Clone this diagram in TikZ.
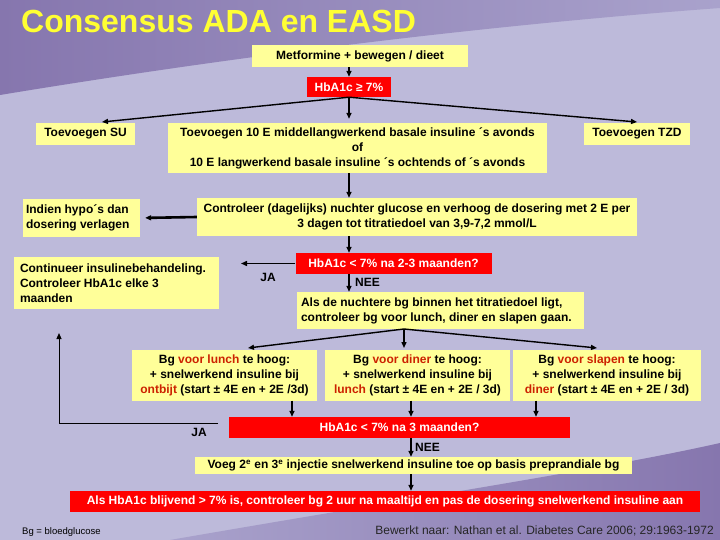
\documentclass[tikz,border=0pt]{standalone}
\usepackage{fontspec}
\setmainfont{Liberation Sans}
\usetikzlibrary{arrows.meta}
\definecolor{bglight}{HTML}{BDBADA}
\definecolor{bgdarkA}{HTML}{8676AE}
\definecolor{bgdarkB}{HTML}{A9A2CC}
\definecolor{boxyellow}{HTML}{FFFF99}
\definecolor{boxred}{HTML}{FF0000}
\definecolor{accent}{HTML}{CC2200}
\definecolor{titleyellow}{HTML}{FFFF33}
\newcommand{\acc}[1]{\textcolor{accent}{#1}}
\begin{document}
\begin{tikzpicture}[x=1pt,y=-1pt,
 ybox/.style={fill=boxyellow, inner sep=0pt, font=\fontsize{12}{15}\selectfont\bfseries, align=center},
 lbox/.style={fill=boxyellow, inner ysep=0pt, font=\fontsize{12}{15}\selectfont\bfseries, align=flush left},
 rbox/.style={fill=boxred, text=white, inner sep=0pt, font=\fontsize{12}{15}\selectfont\bfseries},
 arr/.style={-{Triangle[length=6pt,width=5pt]}, line width=1.4pt},
 lbl/.style={font=\fontsize{12}{15}\selectfont\bfseries, inner sep=0pt}
]
\fill[bglight] (0,0) rectangle (720,540);
\shade[left color=bgdarkA, right color=bgdarkB] (0,0) -- (0,95) .. controls (200,62) and (450,28) .. (720,8) -- (720,0) -- cycle;
\shade[left color=bgdarkB, right color=bgdarkA] (170,540) .. controls (400,500) and (600,470) .. (720,443) -- (720,540) -- cycle;
\useasboundingbox (0,0) rectangle (720,540);

\node[anchor=base west, inner sep=0pt, text=titleyellow, font=\fontsize{32}{38}\selectfont\bfseries] (title) at (21,33) {Consensus ADA en EASD};

\node[ybox, minimum width=216pt, minimum height=22pt] (metf) at (360,56) {Metformine + bewegen / dieet};
\node[rbox, minimum width=84pt, minimum height=20pt] (r1) at (349,87) {HbA1c ≥ 7\%};
\node[ybox, minimum width=99pt, minimum height=22pt] (su) at (85.5,134) {Toevoegen SU};
\node[ybox, minimum width=379pt, minimum height=50pt] (mid) at (357.5,148) {Toevoegen 10 E middellangwerkend basale insuline ´s avonds\\ of\\ 10 E langwerkend basale insuline ´s ochtends of ´s avonds};
\node[ybox, minimum width=106pt, minimum height=22pt] (tzd) at (637,134) {Toevoegen TZD};
\node[ybox, minimum width=440pt, minimum height=38pt] (ctrl) at (417,217) {Controleer (dagelijks) nuchter glucose en verhoog de dosering met 2 E per\\ 3 dagen tot titratiedoel van 3,9-7,2 mmol/L};
\node[lbox, text width=111pt, inner xsep=3pt, minimum height=38pt] (hypo) at (81.5,218) {Indien hypo´s dan\\ dosering verlagen};
\node[rbox, minimum width=196pt, minimum height=21pt] (r2) at (393.5,263.5) {HbA1c < 7\%  na 2-3 maanden?};
\node[lbox, text width=193pt, inner xsep=6pt, minimum height=52pt] (cont) at (116.5,283) {Continueer insulinebehandeling.\\ Controleer HbA1c elke 3\\ maanden};
\node[lbox, text width=279pt, inner xsep=4pt, minimum height=37pt] (als) at (440.5,310.5) {Als de nuchtere bg binnen het titratiedoel ligt,\\ controleer bg voor lunch, diner en slapen gaan.};
\node[ybox, minimum width=185pt, minimum height=51pt] (lunch) at (224.5,375) {Bg \acc{voor lunch} te hoog:\\ + snelwerkend insuline bij\\ \acc{ontbijt} (start ± 4E en + 2E /3d)};
\node[ybox, minimum width=185pt, minimum height=51pt] (diner) at (417.5,375) {Bg \acc{voor diner} te hoog:\\ + snelwerkend insuline bij\\ \acc{lunch} (start ± 4E en + 2E / 3d)};
\node[ybox, minimum width=188pt, minimum height=51pt] (slapen) at (607,375) {Bg \acc{voor slapen} te hoog:\\ + snelwerkend insuline bij\\ \acc{diner} (start ± 4E en + 2E / 3d)};
\node[rbox, minimum width=341pt, minimum height=21pt] (r3) at (399.5,427.5) {HbA1c < 7\%  na 3 maanden?};
\node[ybox, minimum width=437pt, minimum height=17pt] (voeg) at (413.5,465.5) {Voeg 2\textsuperscript{e} en 3\textsuperscript{e} injectie snelwerkend insuline toe op basis preprandiale bg};
\node[rbox, minimum width=630pt, minimum height=21pt] (r4) at (385,501.5) {Als HbA1c blijvend > 7\% is, controleer bg 2 uur na maaltijd en pas de dosering snelwerkend insuline aan};

% coordinates
\coordinate (suT) at (102,122);
\coordinate (tzdT) at (637,122);
\coordinate (contT) at (241,263.5);
\coordinate (alsJ) at (404,329);
\coordinate (lunchT) at (248,348);
\coordinate (dinerT) at (404,348);
\coordinate (slapenT) at (597,348);
\coordinate (xL) at (292,0);
\coordinate (xM) at (411,0);
\coordinate (xR) at (536,0);
\coordinate (jaS) at (218,423);
\coordinate (jaT) at (59,333);

% connectors
\draw[arr] (r1.north |- metf.south) -- (r1.north);
\draw[arr] (r1.south) -- (suT);
\draw[arr] (r1.south) -- (tzdT);
\draw[arr, shorten >=4pt] (r1.south) -- (r1.south |- mid.north);
\draw[arr] (r1.south |- mid.south) -- (r1.south |- ctrl.north);
\draw[arr, line width=2.6pt, shorten >=5pt] (ctrl.west) -- (hypo.east);
\draw[arr] (r1.south |- ctrl.south) -- (r1.south |- r2.north);
\draw[arr] (r2.west) -- (contT);
\node[lbl] (ja1) at (268,277) {JA};
\draw[arr] (r1.south |- r2.south) -- (r1.south |- als.north);
\node[lbl, anchor=west] (nee1) at (355,282) {NEE};
\draw[arr] (alsJ) -- (lunchT);
\draw[arr] (alsJ) -- (dinerT);
\draw[arr] (alsJ) -- (slapenT);
\draw[arr] (lunch.south -| xL) -- (r3.north -| xL);
\draw[arr] (diner.south -| xM) -- (r3.north -| xM);
\draw[arr] (slapen.south -| xR) -- (r3.north -| xR);
\draw[-{Triangle[length=6pt,width=5pt]}, line width=1pt] (jaS) -| (jaT);
\node[lbl] (ja2) at (199,432) {JA};
\draw[arr] (r3.south -| xM) -- (voeg.north -| xM);
\node[lbl, anchor=west] (nee2) at (415,447) {NEE};
\draw[arr] (voeg.south -| xM) -- (r4.north -| xM);

\node[anchor=west, inner sep=0pt, font=\fontsize{9.5}{11}\selectfont] (bg) at (22,532) {Bg = bloedglucose};
\node[anchor=east, inner sep=0pt, text=black!85, font=\fontsize{12}{14}\selectfont] (cite) at (714,531) {Bewerkt naar: Nathan et al. Diabetes Care 2006; 29:1963-1972};
\end{tikzpicture}
\end{document}
